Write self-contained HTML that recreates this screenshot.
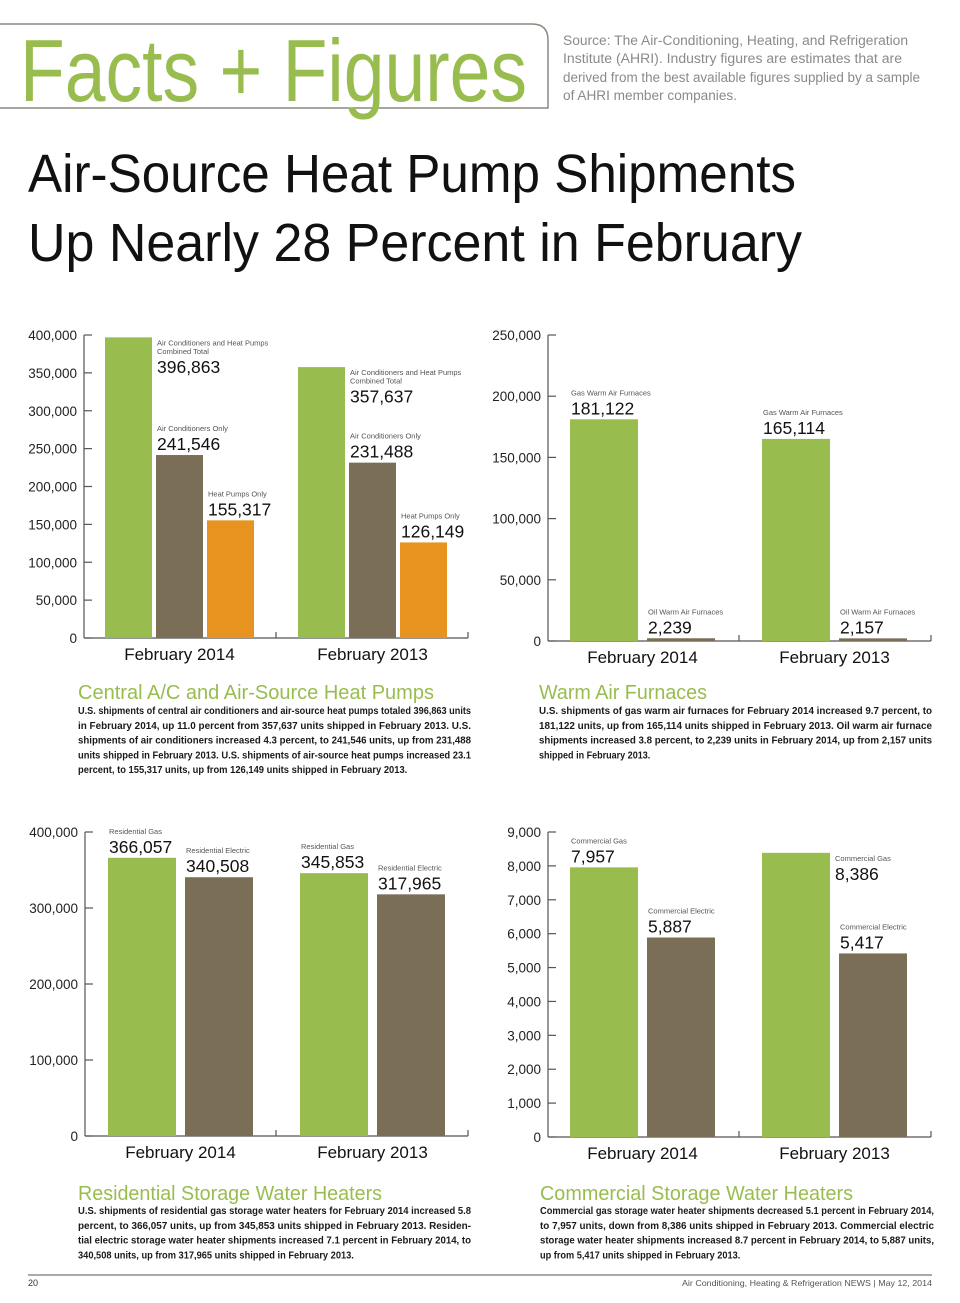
<!DOCTYPE html>
<html><head><meta charset="utf-8"><style>
html,body{margin:0;padding:0;background:#fff;width:960px;height:1303px;overflow:hidden}
svg{position:absolute;left:0;top:0}
</style></head><body>
<svg id="page" width="960" height="1303" viewBox="0 0 960 1303" font-family="'Liberation Sans', sans-serif">
<g>
<path d="M0 24 H532 Q548 24 548 40 V108 H0" fill="none" stroke="#8a8a80" stroke-width="1.5"/>
<text x="20" y="101" font-size="88" fill="#98bd4e" textLength="507" lengthAdjust="spacingAndGlyphs">Facts + Figures</text>
<g fill="#8a8a8a" font-size="13.5">
<text x="563" y="45" textLength="345" lengthAdjust="spacingAndGlyphs">Source: The Air-Conditioning, Heating, and Refrigeration</text>
<text x="563" y="63" textLength="339" lengthAdjust="spacingAndGlyphs">Institute (AHRI). Industry figures are estimates that are</text>
<text x="563" y="82" textLength="357" lengthAdjust="spacingAndGlyphs">derived from the best available figures supplied by a sample</text>
<text x="563" y="100" textLength="174" lengthAdjust="spacingAndGlyphs">of AHRI member companies.</text>
</g>
<text x="28" y="192" font-size="54" fill="#111" textLength="768" lengthAdjust="spacingAndGlyphs">Air-Source Heat Pump Shipments</text>
<text x="28" y="261" font-size="54" fill="#111" textLength="774" lengthAdjust="spacingAndGlyphs">Up Nearly 28 Percent in February</text>
</g>
<g id="charts"></g>
<g id="texts"></g>
<g>
<line x1="28" y1="1275" x2="932" y2="1275" stroke="#777" stroke-width="1.2"/>
<text x="28" y="1286" font-size="9" fill="#333">20</text>
<text x="932" y="1286" font-size="8.5" fill="#555" text-anchor="end" textLength="250" lengthAdjust="spacingAndGlyphs">Air Conditioning, Heating &amp; Refrigeration NEWS  |  May 12, 2014</text>
</g>
</svg>
<script>
// Chart 1: Central A/C and heat pumps
const c1Categories = ['February 2014', 'February 2013'];
const c1Combined = [396863, 357637];
const c1ACOnly = [241546, 231488];
const c1HPOnly = [155317, 126149];
const c1Ticks = [0, 50000, 100000, 150000, 200000, 250000, 300000, 350000, 400000];
const c1SeriesNames = [['Air Conditioners and Heat Pumps','Combined Total'], ['Air Conditioners Only'], ['Heat Pumps Only']];
// Chart 2: Warm air furnaces
const c2Categories = ['February 2014', 'February 2013'];
const c2Gas = [181122, 165114];
const c2Oil = [2239, 2157];
const c2Ticks = [0, 50000, 100000, 150000, 200000, 250000];
const c2SeriesNames = [['Gas Warm Air Furnaces'], ['Oil Warm Air Furnaces']];
// Chart 3: Residential storage water heaters
const c3Categories = ['February 2014', 'February 2013'];
const c3Gas = [366057, 345853];
const c3Electric = [340508, 317965];
const c3Ticks = [0, 100000, 200000, 300000, 400000];
const c3SeriesNames = [['Residential Gas'], ['Residential Electric']];
// Chart 4: Commercial storage water heaters
const c4Categories = ['February 2014', 'February 2013'];
const c4Gas = [7957, 8386];
const c4Electric = [5887, 5417];
const c4Ticks = [0, 1000, 2000, 3000, 4000, 5000, 6000, 7000, 8000, 9000];
const c4SeriesNames = [['Commercial Gas'], ['Commercial Electric']];

const NS = 'http://www.w3.org/2000/svg';
const GREEN = '#98bd4e', BROWN = '#7b6e57', ORANGE = '#e8931f';
function mk(tag, attrs, parent) {
  const e = document.createElementNS(NS, tag);
  for (const k in attrs) e.setAttribute(k, attrs[k]);
  parent.appendChild(e);
  return e;
}
const fmt = v => v.toLocaleString('en-US');

function drawChart(name, L, cats, series, names, colors, ticks, besideGroups) {
  const g = mk('g', {}, document.getElementById('charts'));
  
  
  const yS = v => L.y0 - (v / L.max) * (L.y0 - L.yTop);
  const ax = mk('g', {stroke: '#555', 'stroke-width': 1.2}, g);
  
  
  mk('line', {x1: L.x0, y1: L.yTop, x2: L.x0, y2: L.y0}, ax);
  mk('line', {x1: L.x0, y1: L.y0, x2: L.x1, y2: L.y0}, ax);
  mk('line', {x1: L.mid, y1: L.y0 - 6, x2: L.mid, y2: L.y0}, ax);
  mk('line', {x1: L.x1, y1: L.y0 - 6, x2: L.x1, y2: L.y0}, ax);
  ticks.forEach(t => {
    const y = yS(t);
    const tk = mk('line', {x1: L.x0, y1: y, x2: L.x0 + 8, y2: y}, ax);
    
    
    const tl = mk('text', {x: L.x0 - 7, y: y + 5, 'font-size': 13.5, fill: '#222', 'text-anchor': 'end', stroke: 'none'}, g);
    
    
    tl.textContent = fmt(t);
  });
  cats.forEach((c, ci) => {
    const gx = L.groups[ci];
    const n = series.length;
    series.forEach((s, si) => {
      const x = gx + si * (L.bw + L.gap);
      const top = yS(s[ci]);
      const r = mk('rect', {x: x, y: top, width: L.bw, height: L.y0 - top, fill: colors[si]}, g);
      
      
      const lines = names[si];
      let lx, baseNum;
      const lblG = mk('g', {}, g);
      
      
      if (si === 0 && besideGroups.indexOf(ci) >= 0) {
        lx = x + L.bw + 5;
        lines.forEach((ln, li) => {
          const t = mk('text', {x: lx, y: top + 8 + li * 8.5, 'font-size': 7.5, fill: '#555'}, lblG);
          t.textContent = ln;
        });
        baseNum = top + 8 + (lines.length - 1) * 8.5 + 19;
      } else {
        lx = x + 1;
        baseNum = top - 5;
        lines.forEach((ln, li) => {
          const t = mk('text', {x: lx, y: baseNum - 19 - (lines.length - 1 - li) * 8.5, 'font-size': 7.5, fill: '#555'}, lblG);
          t.textContent = ln;
        });
      }
      const nt = mk('text', {x: lx, y: baseNum, 'font-size': 17.5, fill: '#111'}, lblG);
      nt.textContent = fmt(s[ci]);
    });
    const w = n * L.bw + (n - 1) * L.gap;
    const cl = mk('text', {x: gx + w / 2, y: L.y0 + 22, 'font-size': 17, fill: '#111', 'text-anchor': 'middle'}, g);
    
    
    cl.textContent = c;
  });
}

drawChart('central-ac-heat-pump-chart', {x0: 84, x1: 468, mid: 276, y0: 638, yTop: 335, max: 400000, groups: [105, 298], bw: 47, gap: 4},
  c1Categories, [c1Combined, c1ACOnly, c1HPOnly], c1SeriesNames, [GREEN, BROWN, ORANGE], c1Ticks, [0, 1]);
drawChart('warm-air-furnace-chart', {x0: 548, x1: 931, mid: 739, y0: 641, yTop: 335, max: 250000, groups: [570, 762], bw: 68, gap: 9},
  c2Categories, [c2Gas, c2Oil], c2SeriesNames, [GREEN, BROWN], c2Ticks, []);
drawChart('residential-water-heater-chart', {x0: 85, x1: 468, mid: 276, y0: 1136, yTop: 832, max: 400000, groups: [108, 300], bw: 68, gap: 9},
  c3Categories, [c3Gas, c3Electric], c3SeriesNames, [GREEN, BROWN], c3Ticks, []);
drawChart('commercial-water-heater-chart', {x0: 548, x1: 931, mid: 739, y0: 1137, yTop: 832, max: 9000, groups: [570, 762], bw: 68, gap: 9},
  c4Categories, [c4Gas, c4Electric], c4SeriesNames, [GREEN, BROWN], c4Ticks, [1]);

const blocks = [
  {name: 'central-ac-section', x: 78, w: 393, hy: 699, hw: 356, head: 'Central A/C and Air-Source Heat Pumps', y: 714, lines: [
    'U.S. shipments of central air conditioners and air-source heat pumps totaled 396,863 units',
    'in February 2014, up 11.0 percent from 357,637 units shipped in February 2013. U.S.',
    'shipments of air conditioners increased 4.3 percent, to 241,546 units, up from 231,488',
    'units shipped in February 2013. U.S. shipments of air-source heat pumps increased 23.1',
    'percent, to 155,317 units, up from 126,149 units shipped in February 2013.']},
  {name: 'warm-air-furnaces-section', x: 539, w: 393, hy: 699, hw: 168, head: 'Warm Air Furnaces', y: 714, lines: [
    'U.S. shipments of gas warm air furnaces for February 2014 increased 9.7 percent, to',
    '181,122 units, up from 165,114 units shipped in February 2013. Oil warm air furnace',
    'shipments increased 3.8 percent, to 2,239 units in February 2014, up from 2,157 units',
    'shipped in February 2013.']},
  {name: 'residential-water-heaters-section', x: 78, w: 393, hy: 1200, hw: 304, head: 'Residential Storage Water Heaters', y: 1214, lines: [
    'U.S. shipments of residential gas storage water heaters for February 2014 increased 5.8',
    'percent, to 366,057 units, up from 345,853 units shipped in February 2013. Residen-',
    'tial electric storage water heater shipments increased 7.1 percent in February 2014, to',
    '340,508 units, up from 317,965 units shipped in February 2013.']},
  {name: 'commercial-water-heaters-section', x: 540, w: 394, hy: 1200, hw: 313, head: 'Commercial Storage Water Heaters', y: 1214, lines: [
    'Commercial gas storage water heater shipments decreased 5.1 percent in February 2014,',
    'to 7,957 units, down from 8,386 units shipped in February 2013. Commercial electric',
    'storage water heater shipments increased 8.7 percent in February 2014, to 5,887 units,',
    'up from 5,417 units shipped in February 2013.']}
];
const tg = document.getElementById('texts');
blocks.forEach(b => {
  const g = mk('g', {}, tg);
  
  
  const h = mk('text', {x: b.x, y: b.hy, 'font-size': 20, fill: '#98bd4e', textLength: b.hw, lengthAdjust: 'spacingAndGlyphs'}, g);
  
  
  h.textContent = b.head;
  b.lines.forEach((ln, i) => {
    const last = i === b.lines.length - 1;
    const attrs = {x: b.x, y: b.y + i * 14.8, 'font-size': 10, 'font-weight': 'bold', fill: '#1a1a1a'};
    attrs.textLength = last ? ln.length * 4.45 : b.w;
    attrs.lengthAdjust = 'spacingAndGlyphs';
    const t = mk('text', attrs, g);
    
    
    t.textContent = ln;
  });
});
</script>
</body></html>
